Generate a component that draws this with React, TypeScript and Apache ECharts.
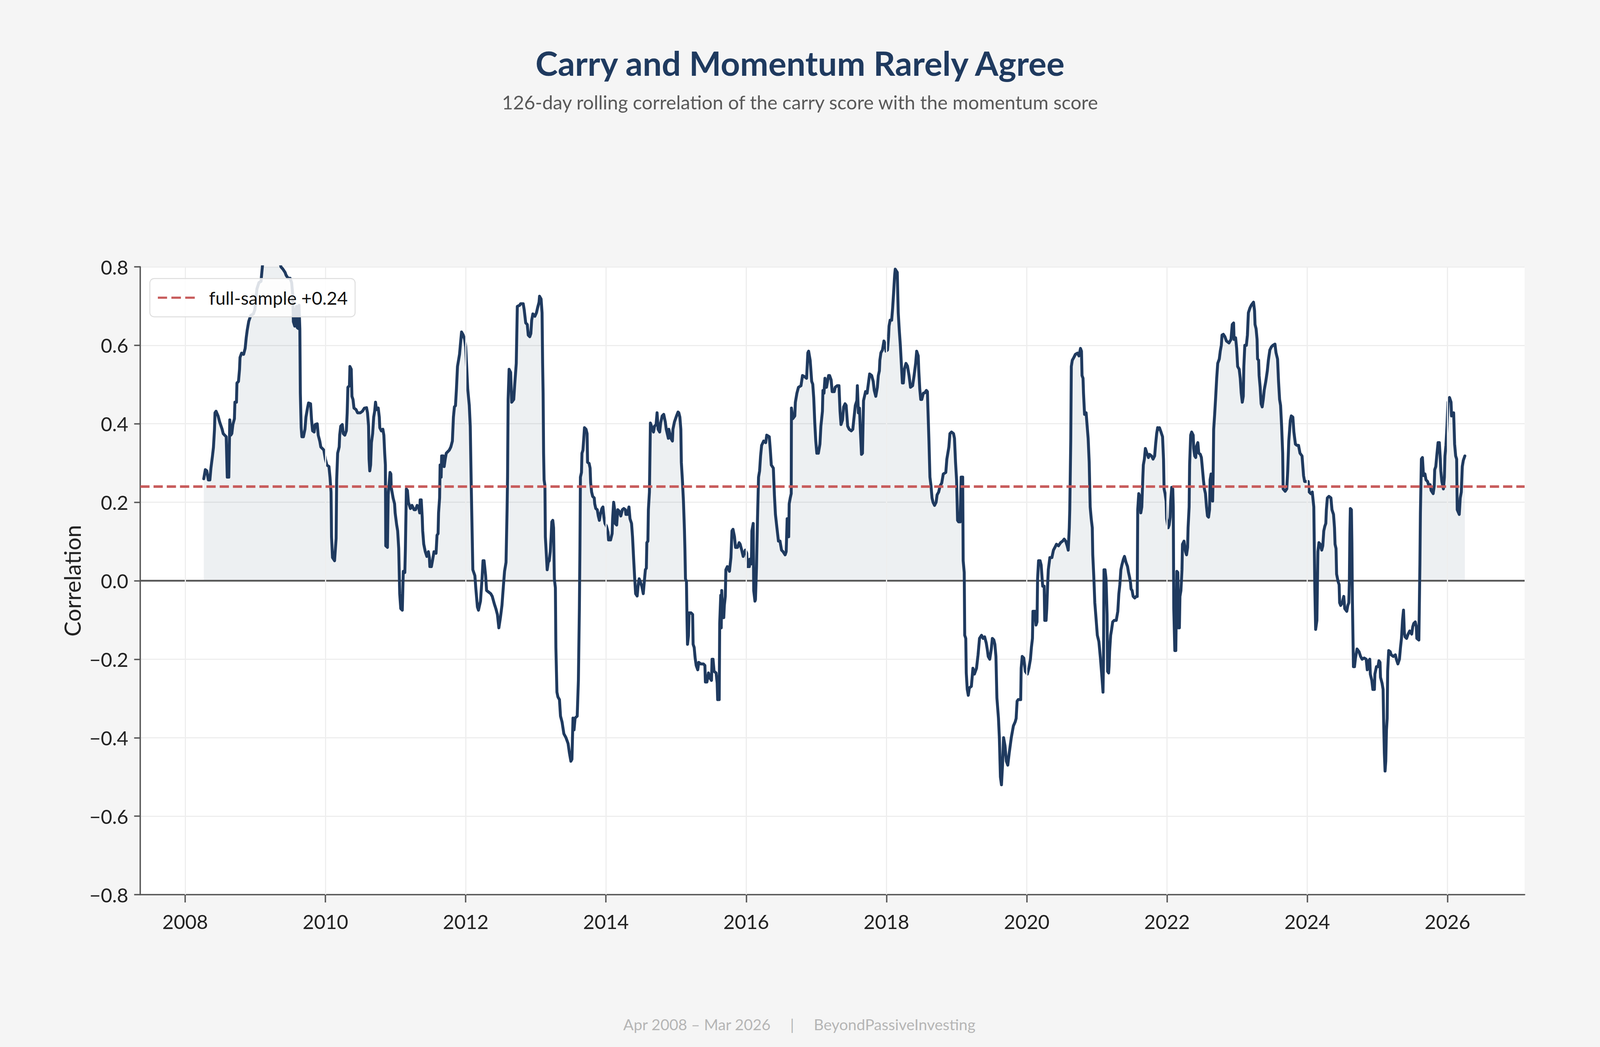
import React, { useEffect, useRef } from "react";
import * as echarts from "echarts";

// 126-day rolling correlation, [decimal year, correlation]
const corr2008 = [
  [2008.265, 0.26], [2008.287, 0.283], [2008.308, 0.28], [2008.33, 0.257], [2008.352, 0.257], [2008.367, 0.287],
  [2008.389, 0.318], [2008.403, 0.34], [2008.418, 0.386], [2008.425, 0.428], [2008.44, 0.432], [2008.469, 0.42],
  [2008.491, 0.405], [2008.527, 0.386], [2008.542, 0.375], [2008.563, 0.371], [2008.585, 0.367], [2008.6, 0.264],
  [2008.622, 0.264], [2008.636, 0.41], [2008.651, 0.371], [2008.665, 0.375], [2008.68, 0.398], [2008.702, 0.413],
  [2008.709, 0.455], [2008.731, 0.455], [2008.738, 0.504], [2008.76, 0.508], [2008.775, 0.539], [2008.782, 0.569],
  [2008.804, 0.58], [2008.833, 0.577], [2008.855, 0.592], [2008.87, 0.619], [2008.884, 0.638], [2008.906, 0.661],
  [2008.935, 0.676], [2008.972, 0.68], [2008.994, 0.691], [2009.023, 0.744], [2009.052, 0.76], [2009.081, 0.763],
  [2009.103, 0.805], [2009.132, 0.83], [2009.205, 0.85], [2009.292, 0.855], [2009.336, 0.825], [2009.365, 0.8],
  [2009.394, 0.794], [2009.424, 0.786], [2009.438, 0.779], [2009.467, 0.771], [2009.496, 0.771], [2009.518, 0.76],
  [2009.533, 0.73], [2009.543, 0.66], [2009.562, 0.649], [2009.577, 0.69], [2009.587, 0.699], [2009.598, 0.645],
  [2009.613, 0.643], [2009.623, 0.702], [2009.635, 0.642], [2009.642, 0.478], [2009.654, 0.39], [2009.664, 0.367],
  [2009.686, 0.367], [2009.708, 0.386], [2009.722, 0.417], [2009.744, 0.44], [2009.759, 0.453], [2009.788, 0.451],
  [2009.802, 0.41], [2009.817, 0.382], [2009.839, 0.379], [2009.853, 0.398], [2009.883, 0.4], [2009.897, 0.371],
  [2009.919, 0.356], [2009.934, 0.341], [2009.956, 0.337], [2009.977, 0.333], [2009.999, 0.31], [2010.021, 0.295],
  [2010.05, 0.291], [2010.065, 0.264], [2010.08, 0.226], [2010.087, 0.112], [2010.101, 0.059], [2010.13, 0.051],
  [2010.152, 0.108], [2010.16, 0.257], [2010.174, 0.325], [2010.196, 0.341], [2010.203, 0.371], [2010.218, 0.394],
  [2010.24, 0.398], [2010.254, 0.375], [2010.276, 0.371], [2010.298, 0.382], [2010.31, 0.428], [2010.32, 0.493],
  [2010.342, 0.497], [2010.349, 0.546], [2010.368, 0.539], [2010.378, 0.47], [2010.393, 0.462], [2010.407, 0.44],
  [2010.437, 0.436], [2010.458, 0.428],
];

const corr2010 = [
  [2010.469, 0.428], [2010.498, 0.428], [2010.527, 0.432], [2010.556, 0.44], [2010.586, 0.441], [2010.6, 0.428],
  [2010.615, 0.394], [2010.622, 0.31], [2010.632, 0.28], [2010.644, 0.295], [2010.656, 0.352], [2010.673, 0.375],
  [2010.688, 0.417], [2010.702, 0.432], [2010.714, 0.455], [2010.728, 0.436], [2010.753, 0.44], [2010.768, 0.417],
  [2010.775, 0.39], [2010.797, 0.382], [2010.819, 0.386], [2010.833, 0.371], [2010.845, 0.325], [2010.855, 0.295],
  [2010.86, 0.089], [2010.884, 0.085], [2010.895, 0.219], [2010.906, 0.242], [2010.921, 0.276], [2010.933, 0.272],
  [2010.938, 0.238], [2010.965, 0.211], [2010.986, 0.196], [2010.994, 0.173], [2011.016, 0.142], [2011.03, 0.127],
  [2011.045, 0.082], [2011.059, -0.033], [2011.074, -0.071], [2011.096, -0.075], [2011.11, 0.024], [2011.132, 0.021],
  [2011.14, 0.082], [2011.154, 0.234], [2011.169, 0.23], [2011.183, 0.2], [2011.212, 0.184], [2011.234, 0.192],
  [2011.263, 0.181], [2011.285, 0.181], [2011.307, 0.192], [2011.329, 0.188], [2011.344, 0.173], [2011.351, 0.206],
  [2011.366, 0.206], [2011.38, 0.162], [2011.387, 0.127], [2011.402, 0.093], [2011.424, 0.074], [2011.446, 0.062],
  [2011.468, 0.074], [2011.482, 0.059], [2011.489, 0.036], [2011.511, 0.036], [2011.526, 0.051], [2011.548, 0.074],
  [2011.577, 0.07], [2011.591, 0.116], [2011.606, 0.12], [2011.613, 0.173], [2011.628, 0.211], [2011.635, 0.295],
  [2011.65, 0.264], [2011.657, 0.318], [2011.679, 0.318], [2011.693, 0.291], [2011.708, 0.31], [2011.723, 0.325],
  [2011.766, 0.333], [2011.788, 0.341], [2011.81, 0.356], [2011.825, 0.417], [2011.839, 0.443], [2011.854, 0.446],
  [2011.868, 0.489], [2011.883, 0.546], [2011.912, 0.577], [2011.927, 0.607], [2011.941, 0.634], [2011.963, 0.627],
  [2011.985, 0.615], [2012.0, 0.596], [2012.014, 0.546], [2012.029, 0.489], [2012.051, 0.447], [2012.065, 0.394],
  [2012.08, 0.234], [2012.102, 0.028], [2012.131, 0.013], [2012.145, -0.021], [2012.167, -0.067], [2012.182, -0.075],
  [2012.211, -0.052], [2012.233, 0.005], [2012.247, 0.051], [2012.262, 0.051], [2012.284, 0.013], [2012.298, -0.025],
  [2012.328, -0.029], [2012.357, -0.033], [2012.379, -0.04], [2012.408, -0.059], [2012.43, -0.071], [2012.452, -0.086],
  [2012.473, -0.12], [2012.495, -0.094], [2012.517, -0.063], [2012.539, -0.01], [2012.554, 0.024], [2012.575, 0.047],
  [2012.59, 0.181], [2012.597, 0.264], [2012.605, 0.462], [2012.619, 0.539], [2012.641, 0.531], [2012.656, 0.455],
  [2012.685, 0.462], [2012.699, 0.5], [2012.721, 0.554], [2012.736, 0.699],
];

const corr2012 = [
  [2012.769, 0.702], [2012.783, 0.706], [2012.82, 0.706], [2012.834, 0.691], [2012.849, 0.668], [2012.856, 0.657],
  [2012.878, 0.653], [2012.892, 0.626], [2012.914, 0.622], [2012.929, 0.63], [2012.941, 0.664], [2012.958, 0.68],
  [2012.987, 0.674], [2013.009, 0.683], [2013.024, 0.695], [2013.046, 0.71], [2013.053, 0.725], [2013.075, 0.718],
  [2013.089, 0.683], [2013.097, 0.554], [2013.104, 0.478], [2013.111, 0.325], [2013.118, 0.257], [2013.13, 0.242],
  [2013.136, 0.112], [2013.148, 0.074], [2013.162, 0.028], [2013.177, 0.047], [2013.191, 0.051], [2013.206, 0.074],
  [2013.218, 0.112], [2013.228, 0.15], [2013.242, 0.154], [2013.253, 0.135], [2013.264, 0.005], [2013.279, -0.018],
  [2013.286, -0.17], [2013.301, -0.284], [2013.315, -0.296], [2013.337, -0.303], [2013.352, -0.345], [2013.374, -0.36],
  [2013.4, -0.39], [2013.43, -0.4], [2013.46, -0.415], [2013.48, -0.44], [2013.5, -0.46], [2013.515, -0.455],
  [2013.53, -0.35], [2013.545, -0.38], [2013.56, -0.35], [2013.59, -0.345], [2013.607, -0.254], [2013.621, -0.071],
  [2013.629, 0.082], [2013.636, 0.264], [2013.651, 0.276], [2013.658, 0.325], [2013.672, 0.333], [2013.687, 0.371],
  [2013.694, 0.39], [2013.716, 0.386], [2013.731, 0.375], [2013.738, 0.302], [2013.76, 0.299], [2013.774, 0.287],
  [2013.782, 0.249], [2013.796, 0.226], [2013.811, 0.215], [2013.833, 0.211], [2013.84, 0.196], [2013.855, 0.184],
  [2013.876, 0.181], [2013.891, 0.165], [2013.906, 0.154], [2013.92, 0.169], [2013.942, 0.184], [2013.957, 0.188],
  [2013.971, 0.162], [2013.986, 0.146], [2014.008, 0.139], [2014.03, 0.123], [2014.037, 0.104], [2014.066, 0.104],
  [2014.088, 0.12], [2014.095, 0.158], [2014.11, 0.2], [2014.124, 0.181], [2014.132, 0.146], [2014.153, 0.142],
  [2014.168, 0.181], [2014.19, 0.177], [2014.212, 0.165], [2014.234, 0.181], [2014.255, 0.184], [2014.277, 0.181],
  [2014.285, 0.169], [2014.306, 0.169], [2014.328, 0.188], [2014.343, 0.158], [2014.365, 0.146], [2014.379, 0.112],
  [2014.394, 0.059], [2014.409, 0.009], [2014.423, -0.033], [2014.445, -0.039], [2014.46, -0.01], [2014.474, 0.005],
  [2014.489, -0.002], [2014.511, -0.014], [2014.532, -0.033], [2014.547, -0.002], [2014.562, 0.028], [2014.576, 0.032],
  [2014.583, 0.097], [2014.598, 0.101], [2014.605, 0.181], [2014.62, 0.226], [2014.634, 0.402], [2014.649, 0.394],
  [2014.678, 0.379], [2014.693, 0.394], [2014.715, 0.398], [2014.729, 0.428], [2014.744, 0.386], [2014.766, 0.379],
  [2014.78, 0.402], [2014.802, 0.42], [2014.824, 0.424], [2014.846, 0.405], [2014.86, 0.386], [2014.89, 0.363],
  [2014.897, 0.386], [2014.926, 0.363], [2014.948, 0.356], [2014.955, 0.386], [2014.977, 0.405], [2015.006, 0.42],
  [2015.028, 0.43],
];

const corr2015 = [
  [2015.039, 0.428], [2015.054, 0.417], [2015.068, 0.386], [2015.075, 0.302], [2015.09, 0.257], [2015.105, 0.203],
  [2015.119, 0.131], [2015.126, 0.082], [2015.134, 0.005], [2015.148, -0.002], [2015.156, -0.101], [2015.163, -0.162],
  [2015.177, -0.139], [2015.185, -0.082], [2015.214, -0.082], [2015.236, -0.086], [2015.243, -0.162], [2015.258, -0.17],
  [2015.272, -0.197], [2015.287, -0.216], [2015.309, -0.227], [2015.323, -0.208], [2015.352, -0.212], [2015.389, -0.212],
  [2015.411, -0.216], [2015.418, -0.258], [2015.44, -0.258], [2015.462, -0.235], [2015.476, -0.246], [2015.505, -0.254],
  [2015.513, -0.2], [2015.527, -0.2], [2015.542, -0.231], [2015.571, -0.235], [2015.586, -0.261], [2015.593, -0.303],
  [2015.615, -0.303], [2015.622, -0.109], [2015.637, -0.037], [2015.644, -0.12], [2015.651, -0.025], [2015.666, -0.094],
  [2015.68, -0.094], [2015.688, -0.063], [2015.702, -0.04], [2015.71, 0.028], [2015.731, 0.036], [2015.761, 0.024],
  [2015.782, 0.059], [2015.797, 0.127], [2015.812, 0.131], [2015.833, 0.112], [2015.848, 0.085], [2015.877, 0.085],
  [2015.899, 0.097], [2015.914, 0.093], [2015.936, 0.078], [2015.957, 0.062], [2015.987, 0.078], [2016.008, 0.07],
  [2016.016, 0.036], [2016.045, 0.036], [2016.052, 0.055], [2016.074, 0.043], [2016.081, 0.127], [2016.1, 0.146],
  [2016.107, -0.025], [2016.125, -0.052], [2016.132, -0.048], [2016.147, 0.036], [2016.161, 0.158], [2016.176, 0.264],
  [2016.191, 0.28], [2016.205, 0.318], [2016.22, 0.345], [2016.249, 0.356], [2016.278, 0.352], [2016.293, 0.371],
  [2016.329, 0.367], [2016.344, 0.333], [2016.358, 0.295], [2016.387, 0.287], [2016.402, 0.219], [2016.417, 0.169],
  [2016.438, 0.135], [2016.46, 0.101], [2016.482, 0.101], [2016.504, 0.078], [2016.526, 0.074], [2016.555, 0.066],
  [2016.57, 0.074], [2016.584, 0.158], [2016.606, 0.112], [2016.613, 0.196], [2016.628, 0.211], [2016.642, 0.222],
  [2016.645, 0.44], [2016.664, 0.413], [2016.693, 0.42], [2016.701, 0.455], [2016.723, 0.478], [2016.745, 0.493],
  [2016.781, 0.497], [2016.803, 0.523], [2016.832, 0.52], [2016.861, 0.516], [2016.879, 0.581], [2016.89, 0.585],
  [2016.912, 0.562], [2016.934, 0.508], [2016.949, 0.501], [2016.963, 0.466], [2016.978, 0.402], [2016.992, 0.356],
  [2017.007, 0.325], [2017.029, 0.325], [2017.051, 0.348], [2017.065, 0.394], [2017.087, 0.432], [2017.094, 0.485],
  [2017.109, 0.478], [2017.123, 0.516], [2017.145, 0.493], [2017.16, 0.508], [2017.175, 0.523], [2017.189, 0.523],
  [2017.211, 0.512], [2017.226, 0.482], [2017.255, 0.482], [2017.269, 0.493], [2017.298, 0.497],
];

const corr2017 = [
  [2017.323, 0.497], [2017.338, 0.432], [2017.352, 0.398], [2017.374, 0.41], [2017.389, 0.443], [2017.41, 0.451],
  [2017.425, 0.447], [2017.447, 0.394], [2017.469, 0.386], [2017.498, 0.382], [2017.52, 0.386], [2017.534, 0.41],
  [2017.556, 0.447], [2017.578, 0.459], [2017.585, 0.497], [2017.6, 0.428], [2017.615, 0.44], [2017.629, 0.379],
  [2017.644, 0.322], [2017.658, 0.325], [2017.673, 0.459], [2017.702, 0.482], [2017.724, 0.478], [2017.746, 0.508],
  [2017.76, 0.527], [2017.789, 0.523], [2017.811, 0.508], [2017.826, 0.485], [2017.848, 0.47], [2017.87, 0.493],
  [2017.884, 0.523], [2017.899, 0.535], [2017.906, 0.562], [2017.921, 0.581], [2017.943, 0.588], [2017.964, 0.611],
  [2017.979, 0.604], [2017.994, 0.585], [2018.015, 0.588], [2018.03, 0.622], [2018.037, 0.649], [2018.052, 0.664],
  [2018.074, 0.664], [2018.088, 0.695], [2018.103, 0.737], [2018.117, 0.779], [2018.125, 0.794], [2018.139, 0.79],
  [2018.154, 0.786], [2018.168, 0.683], [2018.183, 0.638], [2018.198, 0.6], [2018.212, 0.554], [2018.227, 0.504],
  [2018.241, 0.504], [2018.256, 0.539], [2018.278, 0.554], [2018.3, 0.547], [2018.322, 0.523], [2018.343, 0.493],
  [2018.373, 0.497], [2018.394, 0.523], [2018.416, 0.554], [2018.431, 0.585], [2018.453, 0.573], [2018.46, 0.539],
  [2018.475, 0.489], [2018.489, 0.462], [2018.504, 0.462], [2018.526, 0.478], [2018.547, 0.479], [2018.569, 0.485],
  [2018.584, 0.482], [2018.591, 0.44], [2018.606, 0.356], [2018.62, 0.264], [2018.635, 0.242], [2018.65, 0.211],
  [2018.664, 0.2], [2018.686, 0.192], [2018.708, 0.2], [2018.722, 0.219], [2018.744, 0.226], [2018.766, 0.242],
  [2018.788, 0.249], [2018.81, 0.272], [2018.846, 0.276], [2018.861, 0.31], [2018.875, 0.325], [2018.89, 0.341],
  [2018.905, 0.375], [2018.927, 0.379], [2018.956, 0.375], [2018.97, 0.363], [2018.985, 0.302], [2019.0, 0.257],
  [2019.014, 0.154], [2019.029, 0.15], [2019.05, 0.15], [2019.065, 0.264], [2019.087, 0.264], [2019.094, 0.051],
  [2019.109, 0.021], [2019.116, -0.139], [2019.131, -0.147], [2019.138, -0.235], [2019.152, -0.277], [2019.167, -0.292],
  [2019.182, -0.273], [2019.211, -0.269], [2019.233, -0.223], [2019.254, -0.238], [2019.284, -0.223], [2019.306, -0.189],
  [2019.327, -0.147], [2019.356, -0.139], [2019.378, -0.147], [2019.4, -0.143], [2019.422, -0.158], [2019.437, -0.174],
  [2019.451, -0.193], [2019.473, -0.2], [2019.495, -0.174], [2019.51, -0.147], [2019.531, -0.151], [2019.546, -0.162],
  [2019.561, -0.193], [2019.575, -0.299], [2019.597, -0.35],
];

const corr2019 = [
  [2019.61, -0.4], [2019.625, -0.5], [2019.64, -0.52], [2019.655, -0.47], [2019.67, -0.4], [2019.69, -0.42],
  [2019.71, -0.46], [2019.73, -0.47], [2019.75, -0.44], [2019.78, -0.4], [2019.81, -0.37], [2019.835, -0.36],
  [2019.849, -0.351], [2019.863, -0.307], [2019.878, -0.303], [2019.914, -0.303], [2019.921, -0.223], [2019.936, -0.193],
  [2019.958, -0.197], [2019.98, -0.231], [2020.009, -0.238], [2020.031, -0.223], [2020.053, -0.2], [2020.067, -0.17],
  [2020.082, -0.147], [2020.089, -0.078], [2020.118, -0.078], [2020.133, -0.113], [2020.147, -0.105], [2020.155, 0.005],
  [2020.169, 0.051], [2020.191, 0.051], [2020.206, 0.04], [2020.22, 0.005], [2020.228, -0.014], [2020.249, -0.014],
  [2020.257, -0.101], [2020.276, -0.101], [2020.286, -0.071], [2020.3, -0.002], [2020.308, 0.028], [2020.33, 0.059],
  [2020.359, 0.059], [2020.381, 0.078], [2020.402, 0.085], [2020.424, 0.093], [2020.453, 0.089], [2020.483, 0.097],
  [2020.512, 0.101], [2020.534, 0.106], [2020.556, 0.101], [2020.577, 0.089], [2020.592, 0.078], [2020.607, 0.135],
  [2020.614, 0.181], [2020.628, 0.356], [2020.636, 0.546], [2020.65, 0.562], [2020.672, 0.569], [2020.694, 0.577],
  [2020.723, 0.58], [2020.745, 0.573], [2020.767, 0.592], [2020.781, 0.585], [2020.789, 0.523], [2020.803, 0.516],
  [2020.81, 0.478], [2020.825, 0.424], [2020.847, 0.428], [2020.862, 0.394], [2020.876, 0.363], [2020.891, 0.302],
  [2020.905, 0.188], [2020.92, 0.158], [2020.935, 0.135], [2020.942, 0.066], [2020.956, 0.013], [2020.971, -0.056],
  [2020.986, -0.09], [2021.007, -0.139], [2021.029, -0.155], [2021.051, -0.197], [2021.073, -0.246], [2021.088, -0.284],
  [2021.095, -0.2], [2021.102, 0.028], [2021.117, 0.028], [2021.131, 0.005], [2021.146, -0.086], [2021.153, -0.231],
  [2021.168, -0.235], [2021.175, -0.216], [2021.182, -0.181], [2021.197, -0.139], [2021.211, -0.124], [2021.226, -0.105],
  [2021.248, -0.101], [2021.277, -0.101], [2021.299, -0.078], [2021.314, -0.033], [2021.328, -0.01], [2021.343, 0.028],
  [2021.357, 0.04], [2021.379, 0.055], [2021.394, 0.062], [2021.416, 0.047], [2021.438, 0.036], [2021.452, 0.021],
  [2021.467, 0.009], [2021.481, -0.006], [2021.488, -0.021], [2021.503, -0.025], [2021.518, -0.04], [2021.54, -0.044],
  [2021.561, -0.04], [2021.576, -0.04], [2021.583, 0.181], [2021.598, 0.222], [2021.612, 0.215], [2021.627, 0.173],
  [2021.641, 0.188], [2021.656, 0.264], [2021.663, 0.295], [2021.678, 0.31], [2021.692, 0.337], [2021.714, 0.325],
  [2021.736, 0.314], [2021.751, 0.322], [2021.78, 0.318], [2021.802, 0.31], [2021.824, 0.318], [2021.838, 0.348],
  [2021.853, 0.375], [2021.867, 0.39], [2021.882, 0.386],
];

const corr2021 = [
  [2021.893, 0.39], [2021.915, 0.379], [2021.937, 0.367], [2021.951, 0.31], [2021.959, 0.234], [2021.973, 0.222],
  [2021.988, 0.203], [2021.995, 0.158], [2022.017, 0.135], [2022.031, 0.142], [2022.046, 0.162], [2022.053, 0.203],
  [2022.068, 0.238], [2022.083, 0.234], [2022.09, 0.188], [2022.097, -0.071], [2022.112, -0.178], [2022.126, -0.178],
  [2022.141, 0.024], [2022.155, 0.021], [2022.163, -0.12], [2022.177, -0.12], [2022.185, -0.04], [2022.199, -0.025],
  [2022.214, 0.028], [2022.221, 0.093], [2022.243, 0.101], [2022.265, 0.074], [2022.279, 0.066], [2022.294, 0.085],
  [2022.301, 0.135], [2022.316, 0.188], [2022.323, 0.295], [2022.338, 0.371], [2022.352, 0.379], [2022.374, 0.371],
  [2022.381, 0.337], [2022.396, 0.318], [2022.41, 0.314], [2022.418, 0.341], [2022.44, 0.352], [2022.454, 0.325],
  [2022.476, 0.322], [2022.491, 0.314], [2022.505, 0.287], [2022.52, 0.257], [2022.534, 0.234], [2022.549, 0.222],
  [2022.564, 0.188], [2022.578, 0.165], [2022.593, 0.162], [2022.607, 0.181], [2022.615, 0.257], [2022.629, 0.272],
  [2022.644, 0.257], [2022.651, 0.203], [2022.658, 0.264], [2022.666, 0.386], [2022.68, 0.424], [2022.695, 0.47],
  [2022.709, 0.516], [2022.724, 0.554], [2022.746, 0.565], [2022.76, 0.585], [2022.775, 0.6], [2022.785, 0.626],
  [2022.804, 0.628], [2022.826, 0.622], [2022.848, 0.611], [2022.884, 0.606], [2022.913, 0.615], [2022.931, 0.653],
  [2022.95, 0.657], [2022.957, 0.615], [2022.979, 0.619], [2022.994, 0.592], [2023.008, 0.546], [2023.03, 0.539],
  [2023.045, 0.516], [2023.059, 0.478], [2023.074, 0.455], [2023.088, 0.47], [2023.096, 0.546], [2023.11, 0.6],
  [2023.132, 0.6], [2023.147, 0.626], [2023.161, 0.683], [2023.183, 0.695], [2023.205, 0.703], [2023.234, 0.71],
  [2023.249, 0.688], [2023.256, 0.653], [2023.271, 0.642], [2023.285, 0.615], [2023.292, 0.565], [2023.307, 0.562],
  [2023.314, 0.523], [2023.329, 0.493], [2023.343, 0.451], [2023.358, 0.443], [2023.373, 0.462], [2023.387, 0.486],
  [2023.409, 0.508], [2023.431, 0.535], [2023.446, 0.562], [2023.467, 0.588], [2023.489, 0.596], [2023.511, 0.6],
  [2023.54, 0.603], [2023.555, 0.581], [2023.577, 0.565], [2023.591, 0.508], [2023.606, 0.462], [2023.62, 0.447],
  [2023.635, 0.394], [2023.65, 0.325], [2023.657, 0.234], [2023.686, 0.228], [2023.708, 0.234], [2023.722, 0.28],
  [2023.737, 0.356], [2023.759, 0.409], [2023.773, 0.42], [2023.795, 0.417], [2023.81, 0.379], [2023.832, 0.348],
  [2023.854, 0.345], [2023.876, 0.345], [2023.897, 0.325], [2023.926, 0.318], [2023.948, 0.268], [2023.963, 0.253],
  [2023.992, 0.253], [2024.014, 0.253], [2024.029, 0.226], [2024.05, 0.222], [2024.072, 0.226], [2024.087, 0.2],
  [2024.094, 0.188], [2024.109, -0.025], [2024.12, -0.124], [2024.138, -0.101], [2024.152, 0.074], [2024.167, 0.097],
];

const corr2024 = [
  [2024.185, 0.093], [2024.207, 0.078], [2024.222, 0.089], [2024.236, 0.127], [2024.251, 0.139], [2024.265, 0.146],
  [2024.273, 0.181], [2024.287, 0.211], [2024.309, 0.215], [2024.338, 0.211], [2024.353, 0.181], [2024.375, 0.169],
  [2024.389, 0.135], [2024.397, 0.093], [2024.411, 0.082], [2024.419, 0.017], [2024.44, -0.002], [2024.455, -0.01],
  [2024.462, -0.056], [2024.477, -0.063], [2024.499, -0.056], [2024.521, -0.04], [2024.535, -0.071], [2024.564, -0.078],
  [2024.579, -0.063], [2024.593, -0.056], [2024.601, -0.002], [2024.608, 0.12], [2024.615, 0.184], [2024.63, 0.181],
  [2024.637, 0.097], [2024.644, -0.048], [2024.659, -0.219], [2024.674, -0.219], [2024.688, -0.197], [2024.71, -0.174],
  [2024.739, -0.181], [2024.761, -0.193], [2024.783, -0.2], [2024.812, -0.197], [2024.841, -0.2], [2024.856, -0.227],
  [2024.878, -0.204], [2024.892, -0.2], [2024.9, -0.238], [2024.921, -0.254], [2024.936, -0.277], [2024.958, -0.277],
  [2024.965, -0.238], [2024.987, -0.219], [2025.009, -0.219], [2025.023, -0.204], [2025.038, -0.208], [2025.045, -0.246],
  [2025.067, -0.261], [2025.082, -0.277], [2025.09, -0.36], [2025.1, -0.44], [2025.11, -0.485], [2025.12, -0.46],
  [2025.13, -0.38], [2025.14, -0.351], [2025.147, -0.231], [2025.162, -0.178], [2025.184, -0.181], [2025.198, -0.189],
  [2025.228, -0.193], [2025.257, -0.189], [2025.271, -0.2], [2025.293, -0.212], [2025.315, -0.2], [2025.33, -0.17],
  [2025.344, -0.147], [2025.359, -0.101], [2025.373, -0.075], [2025.385, -0.132], [2025.395, -0.143], [2025.417, -0.147],
  [2025.439, -0.136], [2025.461, -0.128], [2025.49, -0.136], [2025.505, -0.117], [2025.519, -0.109], [2025.541, -0.105],
  [2025.556, -0.117], [2025.563, -0.147], [2025.592, -0.151], [2025.607, 0.043], [2025.614, 0.173], [2025.628, 0.31],
  [2025.643, 0.314], [2025.658, 0.268], [2025.679, 0.272], [2025.694, 0.257], [2025.716, 0.253], [2025.73, 0.245],
  [2025.752, 0.245], [2025.767, 0.23], [2025.796, 0.222], [2025.811, 0.242], [2025.818, 0.283], [2025.833, 0.291],
  [2025.847, 0.318], [2025.866, 0.352], [2025.884, 0.352], [2025.898, 0.31], [2025.905, 0.28], [2025.92, 0.253],
  [2025.942, 0.234], [2025.956, 0.264], [2025.964, 0.318], [2025.978, 0.345], [2025.993, 0.394], [2026.007, 0.455],
  [2026.029, 0.467], [2026.051, 0.455], [2026.058, 0.42], [2026.088, 0.428], [2026.102, 0.348], [2026.117, 0.318],
  [2026.131, 0.31], [2026.139, 0.181], [2026.168, 0.169], [2026.182, 0.211], [2026.197, 0.226], [2026.211, 0.291],
  [2026.226, 0.307], [2026.248, 0.318],
];

const fullSampleMean = 0.24;
const yearTicks = [2008, 2010, 2012, 2014, 2016, 2018, 2020, 2022, 2024, 2026];
const xRange = [2007.36, 2027.1];

const FONT = "Lato, 'Noto Sans', sans-serif";

// fill only where the correlation is above zero
function positivePart(points) {
  const out = [];
  for (let i = 0; i < points.length; i++) {
    const [x, y] = points[i];
    if (i > 0) {
      const [px, py] = points[i - 1];
      if ((py > 0 && y < 0) || (py < 0 && y > 0)) {
        const t = py / (py - y);
        out.push([px + t * (x - px), 0]);
      }
    }
    out.push([x, Math.max(y, 0)]);
  }
  return out;
}

const fmtY = (v) => {
  if (Math.abs(v) < 1e-9) return "0.0";
  return v < 0 ? "\u2212" + Math.abs(v).toFixed(1) : v.toFixed(1);
};

const App = () => {
  const chartRef = useRef(null);

  useEffect(() => {
    const el = chartRef.current;
    const chart = echarts.init(el, null, { renderer: "svg" });
    // layout is measured on a 5200 x 2680 page, then fitted to the real size
    const W = el.clientWidth || 5200;
    const H = el.clientHeight || 2680;
    const sx = W / 5200;
    const sy = H / 2680;
    const fs = Math.min(sx, sy);
    const X = (v) => v * sx;
    const Y = (v) => v * sy;
    const F = (v) => v * fs;

    const corr = [...corr2008, ...corr2010, ...corr2012, ...corr2015, ...corr2017, ...corr2019, ...corr2021, ...corr2024];
    const legendName = "full-sample +" + fullSampleMean.toFixed(2);

    const option = {
      animation: false,
      backgroundColor: "#f5f5f5",
      textStyle: { fontFamily: FONT },
      grid: {
        left: X(456),
        right: X(245),
        top: Y(683),
        bottom: Y(390),
        show: true,
        backgroundColor: "#ffffff",
        borderWidth: 0,
      },
      legend: {
        data: [legendName],
        z: 20,
        left: X(487),
        top: Y(713),
        icon: "path://M0 0H30V7H0Z M44 0H75V7H44Z M89 0H120V7H89Z",
        itemWidth: X(120),
        itemHeight: F(8),
        padding: [Y(26), X(24), Y(26), X(26)],
        backgroundColor: "rgba(255,255,255,0.85)",
        borderColor: "#dddddd",
        borderWidth: F(3),
        borderRadius: F(14),
        textStyle: { fontSize: F(59), color: "#111111", fontFamily: FONT, padding: [0, 0, 0, X(40)] },
      },
      graphic: [
        {
          type: "text",
          x: X(2600),
          y: Y(160),
          style: {
            text: "Carry and Momentum Rarely Agree",
            font: `bold ${F(110)}px ${FONT}`,
            fill: "#1f3a5f",
            textAlign: "center",
            textVerticalAlign: "middle",
          },
        },
        {
          type: "text",
          x: X(2600),
          y: Y(261),
          style: {
            text: "126-day rolling correlation of the carry score with the momentum score",
            font: `${F(62)}px ${FONT}`,
            fill: "#595959",
            textAlign: "center",
            textVerticalAlign: "middle",
          },
        },
        {
          type: "text",
          x: X(2598),
          y: Y(2621),
          style: {
            text: "Apr 2008 \u2013 Mar 2026     |     BeyondPassiveInvesting",
            font: `${F(50)}px ${FONT}`,
            fill: "#b5b5b5",
            textAlign: "center",
            textVerticalAlign: "middle",
          },
        },
      ],
      xAxis: {
        type: "value",
        min: xRange[0],
        max: xRange[1],
        axisLine: { show: true, onZero: false, lineStyle: { color: "#555555", width: 3.5 } },
        axisTick: { show: true, length: Y(20), lineStyle: { color: "#555555", width: 3.5 }, customValues: yearTicks },
        axisLabel: {
          customValues: yearTicks,
          fontSize: F(64),
          color: "#222222",
          margin: Y(43),
          fontFamily: FONT,
          formatter: (v) => String(Math.round(v)),
        },
        splitLine: { show: false },
      },
      yAxis: {
        type: "value",
        min: -0.8,
        max: 0.8,
        interval: 0.2,
        name: "Correlation",
        nameLocation: "middle",
        nameGap: X(185),
        nameTextStyle: { fontSize: Y(58), color: "#222222", fontFamily: FONT },
        axisLine: { show: true, lineStyle: { color: "#555555", width: 3.5 } },
        axisTick: { show: true, length: X(20), lineStyle: { color: "#555555", width: 3.5 } },
        axisLabel: { fontSize: F(64), color: "#222222", margin: X(39), fontFamily: FONT, formatter: fmtY },
        splitLine: { show: true, lineStyle: { color: "#eeeeee", width: 3 } },
      },
      series: [
        {
          name: "grid-x",
          type: "line",
          data: [],
          z: 1,
          silent: true,
          markLine: {
            silent: true,
            symbol: ["none", "none"],
            label: { show: false },
            lineStyle: { color: "#eeeeee", width: 3, type: "solid" },
            data: yearTicks.map((y) => ({ xAxis: y })),
          },
        },
        {
          name: "fill",
          type: "line",
          data: positivePart(corr),
          showSymbol: false,
          symbol: "none",
          silent: true,
          z: 2,
          lineStyle: { width: 0, opacity: 0 },
          areaStyle: { color: "rgba(31,58,95,0.11)" },
        },
        {
          name: "zero",
          type: "line",
          data: [[xRange[0], 0], [xRange[1], 0]],
          showSymbol: false,
          symbol: "none",
          silent: true,
          z: 3,
          lineStyle: { color: "#555555", width: 4.5 },
        },
        {
          name: "corr",
          type: "line",
          data: corr,
          showSymbol: false,
          symbol: "none",
          z: 4,
          lineStyle: { color: "#1f3a5f", width: 7.5, join: "round", cap: "round" },
        },
        {
          name: legendName,
          type: "line",
          data: [[xRange[0], fullSampleMean], [xRange[1], fullSampleMean]],
          showSymbol: false,
          symbol: "none",
          z: 5,
          color: "#c75b5b",
          itemStyle: { color: "#c75b5b" },
          lineStyle: { color: "#c75b5b", width: 6.5, type: [X(30), X(13)] },
        },
      ],
    };

    chart.setOption(option);
    return () => {
      chart.dispose();
    };
  }, []);

  return (
    <div
      ref={chartRef}
      style={{ position: "fixed", left: 0, top: 0, width: "100vw", height: "100vh" }}
    />
  );
};

export default App;
